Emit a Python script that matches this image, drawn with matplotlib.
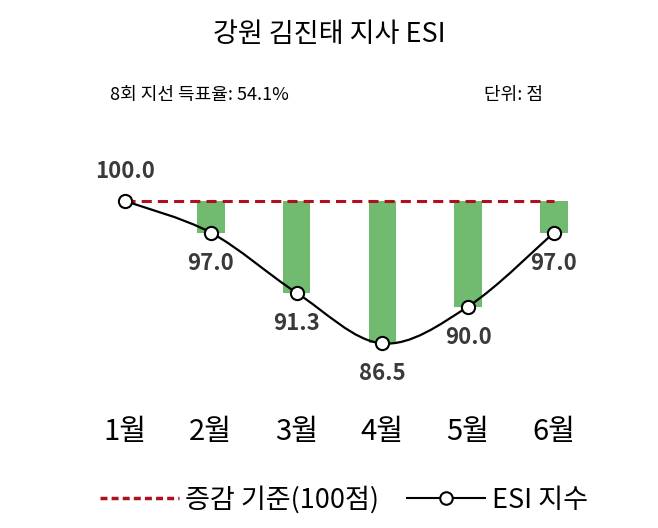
# 강원 김진태 지사 ESI chart

import matplotlib
matplotlib.use('Agg')
import matplotlib.pyplot as plt
from matplotlib.path import Path
from matplotlib.patches import PathPatch
from matplotlib.lines import Line2D
import numpy as np

plt.rcParams['font.family'] = ['Noto Sans CJK KR', 'DejaVu Sans']

#================================================
# Data

months = ['1월', '2월', '3월', '4월', '5월', '6월']
esi = [100.0, 97.0, 91.3, 86.5, 90.0, 97.0]
baseline = 100

title = '강원 김진태 지사 ESI'
subtitle_left = '8회 지선 득표율: 54.1%'
subtitle_right = '단위: 점'

#================================================
# Figure

fig = plt.figure(figsize=(6.58, 5.28), dpi=100)
ax = fig.add_axes([60 / 658, 128 / 528, 560 / 658, 250 / 528])
ax.set_xlim(-0.758, 5.77)
ax.set_ylim(81.14, 104.83)

x = np.arange(len(months))
vals = np.array(esi)

# bars hanging down from the 100 line
ax.bar(x, vals - baseline, bottom=baseline, width=0.32, color='#70bb70', zorder=1)

# baseline
ax.plot([x[0], x[-1]], [baseline, baseline], color='#b0101e', lw=2.2,
        ls=(0, (3.3, 2.0)), zorder=2)

# smooth line through points (Catmull-Rom -> cubic bezier)
verts = [(x[0], vals[0])]
codes = [Path.MOVETO]
for i in range(len(x) - 1):
    p0 = np.array([x[max(i - 1, 0)], vals[max(i - 1, 0)]])
    p1 = np.array([x[i], vals[i]])
    p2 = np.array([x[i + 1], vals[i + 1]])
    p3 = np.array([x[min(i + 2, len(x) - 1)], vals[min(i + 2, len(x) - 1)]])
    c1 = p1 + (p2 - p0) / 6
    c2 = p2 - (p3 - p1) / 6
    verts += [tuple(c1), tuple(c2), tuple(p2)]
    codes += [Path.CURVE4] * 3
ax.add_patch(PathPatch(Path(verts, codes), fill=False, edgecolor='black', lw=1.6, zorder=3))

ax.plot(x, vals, ls='none', marker='o', ms=9.5, mfc='white', mec='black', mew=1.5, zorder=4)

# value labels
for i, v in enumerate(vals):
    dy = 21 if i == 0 else -22
    ax.annotate(f'{v:.1f}', (x[i], v), xytext=(0, dy), textcoords='offset points',
                ha='center', va='center', fontsize=16, fontweight='bold', color='#3a3a3a')

ax.set_xticks(x, months, fontsize=21)
ax.tick_params(axis='x', length=0, pad=12)
ax.set_yticks([])
for s in ax.spines.values():
    s.set_visible(False)

#================================================
# Texts

fig.text(0.5, 1 - 34 / 528, title, ha='center', va='center', fontsize=19.5)
fig.text(110 / 658, 1 - 95 / 528, subtitle_left, ha='left', va='center', fontsize=13)
fig.text(543 / 658, 1 - 95 / 528, subtitle_right, ha='right', va='center', fontsize=13)

#================================================
# Legend

handles = [
    Line2D([], [], color='#b0101e', lw=2.5, ls=(0, (2.0, 1.2))),
    Line2D([], [], color='black', lw=1.5, marker='o', ms=9, mfc='white', mec='black', mew=1.5),
]
fig.legend(handles, ['증감 기준(100점)', 'ESI 지수'], loc='center', ncol=2,
           bbox_to_anchor=(344 / 658, 1 - 500 / 528), frameon=False, fontsize=19.5,
           handlelength=2.9, handletextpad=0.25, columnspacing=1.0, numpoints=1)

fig.savefig('out.png', dpi=100)
